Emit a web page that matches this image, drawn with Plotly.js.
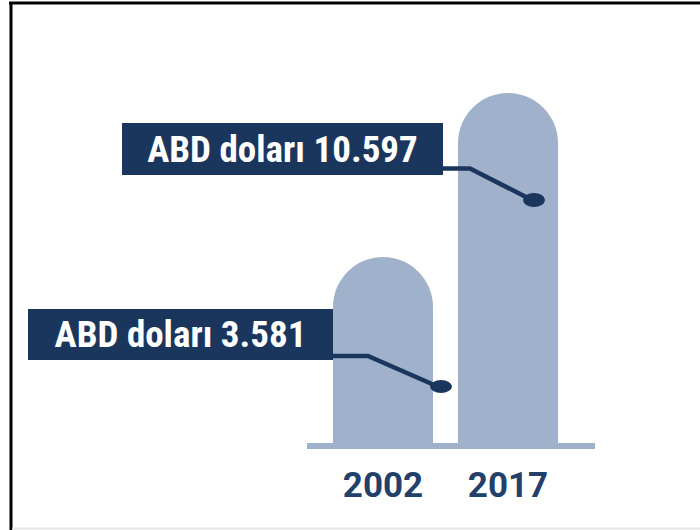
<!DOCTYPE html>
<html>
<head>
<meta charset="utf-8">
<script src="https://cdn.plot.ly/plotly-3.0.1.min.js"></script>
<style>
  html, body { margin: 0; padding: 0; background: #ffffff; }
  #chart { width: 700px; height: 530px; }
</style>
</head>
<body>
<div id="chart"></div>
<script>
// ---- data ----
var years = ['2002', '2017'];
var values = [3581, 10597];
var labels = ['ABD doları 3.581', 'ABD doları 10.597'];

// ---- styles ----
var barColor = '#a0b2cb';
var navy = '#1b365d';

var W = 700, H = 530;
var M = {l: 307, r: 105, t: 60, b: 87};
var PW = W - M.l - M.r, PH = H - M.t - M.b;
function px(x) { return (x - M.l) / PW; }
function py(y) { return (H - M.b - y) / PH; }

var trace = {
  type: 'bar',
  x: years,
  y: values,
  width: 0.8,
  marker: {color: barColor, cornerradius: '50%', line: {width: 0}},
  hoverinfo: 'skip'
};

// label boxes (positions in pixels)
var boxes = [
  {x0: 28, y0: 309, w: 305, h: 51},
  {x0: 122, y0: 123, w: 321, h: 52}
];
// connector paths: [start, elbow, end], dot centre and radii
var connectors = [
  {pts: [[333, 356], [368, 356], [432, 384]], dot: [441, 386.5], rx: 11, ry: 6.5},
  {pts: [[443, 168.5], [470, 168.5], [526, 197]], dot: [534, 200], rx: 11, ry: 7}
];

var annotations = labels.map(function (t, i) {
  var b = boxes[i];
  return {
    xref: 'paper', yref: 'paper',
    x: px(b.x0), y: py(b.y0),
    xanchor: 'left', yanchor: 'top',
    width: b.w, height: b.h,
    borderpad: 0, borderwidth: 0,
    bgcolor: navy,
    showarrow: false,
    align: 'center', valign: 'middle',
    text: t,
    font: {family: '"Liberation Sans Narrow", "Roboto Condensed", "DejaVu Sans Condensed", sans-serif', size: 37, color: '#ffffff', weight: 'bold'}
  };
});

var shapes = [];
connectors.forEach(function (c) {
  var d = 'M ' + px(c.pts[0][0]) + ',' + py(c.pts[0][1]);
  for (var k = 1; k < c.pts.length; k++) d += ' L ' + px(c.pts[k][0]) + ',' + py(c.pts[k][1]);
  shapes.push({type: 'path', xref: 'paper', yref: 'paper', path: d, line: {color: navy, width: 4.5}, layer: 'above'});
  shapes.push({type: 'circle', xref: 'paper', yref: 'paper',
    x0: px(c.dot[0] - c.rx), x1: px(c.dot[0] + c.rx),
    y0: py(c.dot[1] + c.ry), y1: py(c.dot[1] - c.ry),
    fillcolor: navy, line: {width: 0}, layer: 'above'});
});
// frame lines
shapes.push({type: 'line', xref: 'paper', yref: 'paper', x0: px(9), x1: px(700), y0: py(3), y1: py(3), line: {color: '#000000', width: 3}});
shapes.push({type: 'line', xref: 'paper', yref: 'paper', x0: px(11), x1: px(11), y0: py(2), y1: py(530), line: {color: '#000000', width: 3}});
shapes.push({type: 'line', xref: 'paper', yref: 'paper', x0: px(12), x1: px(700), y0: py(528.5), y1: py(528.5), line: {color: '#e4e4e4', width: 2}});

var layout = {
  width: W, height: H,
  margin: M,
  paper_bgcolor: '#ffffff',
  plot_bgcolor: '#ffffff',
  showlegend: false,
  xaxis: {
    type: 'category',
    range: [-0.608, 1.696],
    showgrid: false, zeroline: false,
    showline: true, linecolor: barColor, linewidth: 6,
    ticks: '', ticklabelstandoff: 6,
    tickfont: {family: 'Roboto, sans-serif', size: 35, color: '#22406a', weight: 'bold'},
    fixedrange: true
  },
  yaxis: {
    type: 'log',
    range: [3.0196, 4.1200],
    visible: false,
    showgrid: false, zeroline: false,
    fixedrange: true
  },
  annotations: annotations,
  shapes: shapes
};

Plotly.newPlot('chart', [trace], layout, {displayModeBar: false, staticPlot: true});
</script>
</body>
</html>
